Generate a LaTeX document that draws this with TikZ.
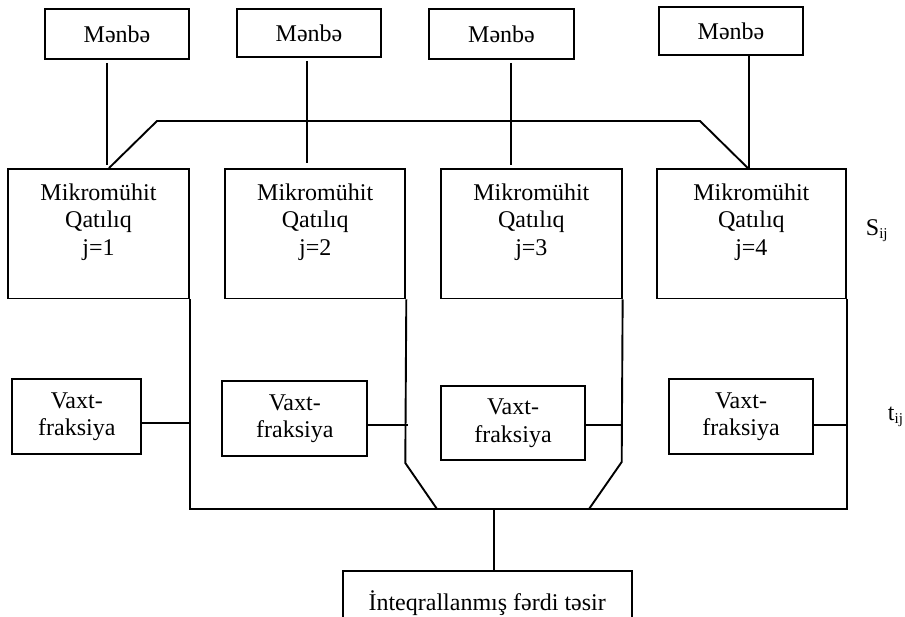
\documentclass[tikz,border=0pt]{standalone}
\usepackage{fontspec}
\setmainfont{Liberation Serif}
\begin{document}
\begin{tikzpicture}[x=1pt, y=-1pt, line width=1.9pt,
  box/.style={draw, rectangle, inner sep=0pt},
  lbl/.style={align=center, inner sep=0pt, font=\fontsize{24}{27.5}\selectfont},
  subtxt/.style={font=\fontsize{24}{27.5}\selectfont, inner sep=0pt, anchor=base west},
]
\useasboundingbox (0,0) rectangle (905,616);
\clip (0,0) rectangle (905,616);

% sources
\node[box, lbl, minimum width=144, minimum height=50] (s1) at (117,34) {Mənbə};
\node[box, lbl, minimum width=144, minimum height=48] (s2) at (309,33) {Mənbə};
\node[box, lbl, minimum width=145, minimum height=50] (s3) at (501.5,34) {Mənbə};
\node[box, lbl, minimum width=144, minimum height=48] (s4) at (731,31) {Mənbə};

% micro-environments
\node[box, minimum width=181,   minimum height=129.5] (m1) at (98.5,233.75) {};
\node[box, minimum width=180.3, minimum height=129.5] (m2) at (315.2,233.75) {};
\node[box, minimum width=180.7, minimum height=129.5] (m3) at (531.35,233.75) {};
\node[box, minimum width=188.7, minimum height=129.5] (m4) at (751.35,233.75) {};
\node[lbl] (m1t) at (98.5,222)   {Mikromühit\\Qatılıq\\j=1};
\node[lbl] (m2t) at (315.2,222)  {Mikromühit\\Qatılıq\\j=2};
\node[lbl] (m3t) at (531.35,222) {Mikromühit\\Qatılıq\\j=3};
\node[lbl] (m4t) at (751.35,222) {Mikromühit\\Qatılıq\\j=4};

% time fractions
\node[box, lbl, minimum width=129,   minimum height=75] (v1) at (76.8,416.5) {Vaxt-\\fraksiya};
\node[box, lbl, minimum width=145,   minimum height=75] (v2) at (294.8,418.5) {Vaxt-\\fraksiya};
\node[box, lbl, minimum width=144,   minimum height=74] (v3) at (513,423) {Vaxt-\\fraksiya};
\node[box, lbl, minimum width=144.6, minimum height=75] (v4) at (741,416.5) {Vaxt-\\fraksiya};

% integrated exposure
\node[box, lbl, minimum width=289, minimum height=64] (out) at (487.2,603) {İnteqrallanmış fərdi təsir};

% side labels
\node[subtxt] (sij) at (865,235) {S\raisebox{-3pt}{\fontsize{15}{15}\selectfont ij}};
\node[subtxt] (tij) at (887,420) {t\raisebox{-3pt}{\fontsize{15}{15}\selectfont ij}};

% sources to micro-environments
\draw[shorten <=3pt, shorten >=3pt] ([xshift=-10]s1.south) -- ([xshift=-10]s1.south |- m1.north);
\draw[shorten <=3pt, shorten >=5pt] ([xshift=-2]s2.south)  -- ([xshift=-2]s2.south |- m2.north);
\draw[shorten <=3pt, shorten >=3pt] ([xshift=9.5]s3.south) -- ([xshift=9.5]s3.south |- m3.north);
\draw ([xshift=18]s4.south) -- ([xshift=18]s4.south |- m4.north);

% shared link across the top
\coordinate (bl) at (157,121);
\coordinate (br) at (700,121);
\draw ([xshift=10.5]m1.north) -- (bl) -- (br) -- ([xshift=-3.5]m4.north);

% collecting bus
\coordinate (bus) at (494,509);
\coordinate (k2) at (405.3,463);
\coordinate (j2) at (437,509);
\coordinate (k3) at (621.7,462);
\coordinate (j3) at (589,509);
\draw (m1.south east) -- (m1.south east |- bus) -- (m4.south east |- bus) -- (m4.south east);
\draw (m2.south east) -- (k2) -- (j2);
\draw (m3.south east) -- (k3) -- (j3);

% time fractions to the bus lines
\coordinate (h1) at (0,423);
\coordinate (h) at (0,425);
\draw (v1.east |- h1) -- (m1.south east |- h1);
\draw ([xshift=-2]v2.east |- h) -- ([xshift=2]m2.south east |- h);
\draw (v3.east |- h) -- (m3.south east |- h);
\draw (v4.east |- h) -- (m4.south east |- h);

% bus to integrated exposure
\draw (bus) -- (bus |- out.north);
\end{tikzpicture}
\end{document}
